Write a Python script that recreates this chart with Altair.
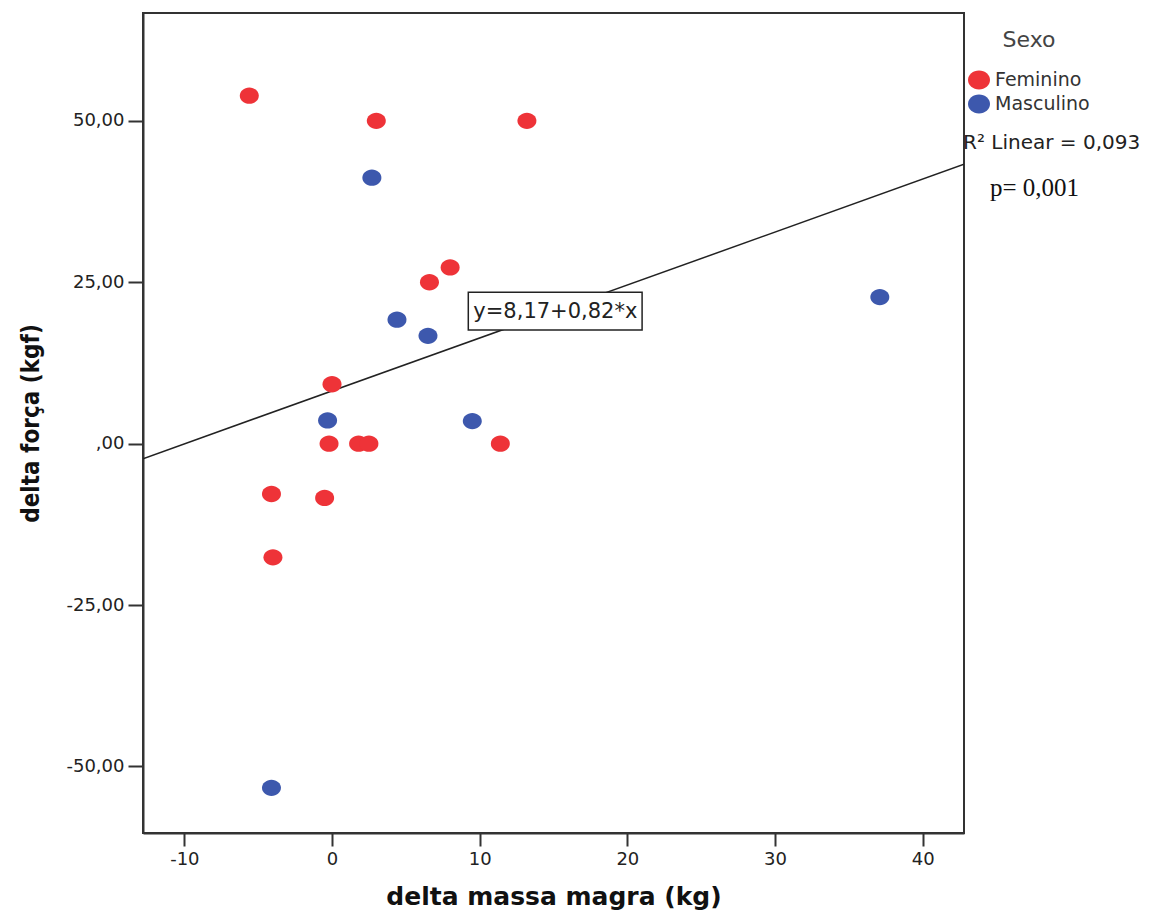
import altair as alt
import pandas as pd

# ---- data ----
fem_massa = [-5.6, 3.0, 13.2, 8.0, 6.6, 0.0, -0.2, 1.8, 2.5, 11.4, -4.1, -0.5, -4.0]
fem_forca = [53.9, 50.0, 50.0, 27.3, 25.0, 9.2, 0.0, 0.0, 0.0, 0.0, -7.8, -8.4, -17.6]
masc_massa = [2.7, 4.4, 6.5, -0.3, 9.5, 37.1, -4.1]
masc_forca = [41.2, 19.2, 16.7, 3.6, 3.5, 22.7, -53.3]

sexo_cats = ["Feminino", "Masculino"]
sexo_colors = ["#EE3338", "#3D58AD"]

intercept = 8.17
slope = 0.82
x_domain = [-12.8, 42.8]
y_domain = [-60.3, 66.7]
x_ticks = [-10, 0, 10, 20, 30, 40]
y_ticks = [-50, -25, 0, 25, 50]

eq_label = "y=8,17+0,82*x"
r2_label = "R\u00b2 Linear = 0,093"
p_label = "p= 0,001"

# ---- tables ----
df = pd.DataFrame({
    "massa": fem_massa + masc_massa,
    "forca": fem_forca + masc_forca,
    "sexo": ["Feminino"] * len(fem_massa) + ["Masculino"] * len(masc_massa),
})
line_df = pd.DataFrame({
    "massa": x_domain,
    "forca": [intercept + slope * v for v in x_domain],
})
box_df = pd.DataFrame({"x1": [9.23], "x2": [21.0], "y1": [17.6], "y2": [23.45],
                       "tx": [9.57], "ty": [20.4], "label": [eq_label]})
side_df = pd.DataFrame({"r2": [r2_label], "p": [p_label]})

ELLIPSE = "M-1,0A1,0.86,0,1,0,1,0A1,0.86,0,1,0,-1,0Z"

xs = alt.Scale(domain=x_domain, nice=False, zero=False)
ys = alt.Scale(domain=y_domain, nice=False, zero=False)

x_axis = alt.Axis(values=x_ticks, title="delta massa magra (kg)", grid=False,
                  tickSize=13, labelPadding=4,
                  labelExpr="(datum.value < 0 ? '-' : '') + format(abs(datum.value), 'd')",
                  titleY=71, titleBaseline="alphabetic",
                  titleFont="DejaVu Sans", titleFontSize=25, titleFontWeight="bold",
                  titleColor="#111")
y_axis = alt.Axis(values=y_ticks, title="delta força (kgf)", grid=False,
                  tickSize=15, labelPadding=4,
                  labelExpr="datum.value == 0 ? ',00' : (datum.value < 0 ? '-' : '') + replace(format(abs(datum.value), '.2f'), '.', ',')",
                  titleX=-105, titleY=410, titleAngle=270, titleBaseline="alphabetic",
                  titleAlign="center",
                  titleFont="DejaVu Sans Condensed, DejaVu Sans", titleFontSize=24,
                  titleFontWeight="bold", titleColor="#111")

points = alt.Chart(df).mark_point(shape=ELLIPSE, filled=True, size=361, opacity=1,
                                  strokeWidth=0).encode(
    x=alt.X("massa:Q", scale=xs, axis=x_axis),
    y=alt.Y("forca:Q", scale=ys, axis=y_axis),
    color=alt.Color("sexo:N", scale=alt.Scale(domain=sexo_cats, range=sexo_colors),
                    legend=alt.Legend(title="Sexo", orient="none", legendX=825, legendY=17,
                                      symbolType=ELLIPSE, symbolSize=484,
                                      symbolStrokeWidth=0, symbolOpacity=1,
                                      titleAnchor="middle", titleFont="DejaVu Sans",
                                      titleFontSize=22, titleFontWeight="normal",
                                      titleColor="#444", titlePadding=17,
                                      labelFont="DejaVu Sans", labelFontSize=19,
                                      labelColor="#333", labelOffset=5, rowPadding=3)),
)

line = alt.Chart(line_df).mark_line(color="#222", strokeWidth=1.5, clip=True).encode(
    x=alt.X("massa:Q", scale=xs),
    y=alt.Y("forca:Q", scale=ys),
)

box = alt.Chart(box_df).mark_rect(fill="white", stroke="#222", strokeWidth=1.5).encode(
    x=alt.X("x1:Q", scale=xs), x2="x2:Q",
    y=alt.Y("y1:Q", scale=ys), y2="y2:Q",
)
box_text = alt.Chart(box_df).mark_text(align="left", baseline="middle", font="DejaVu Sans",
                                       fontSize=21, color="#222").encode(
    x=alt.X("tx:Q", scale=xs), y=alt.Y("ty:Q", scale=ys), text="label:N",
)

r2_text = alt.Chart(side_df).mark_text(align="left", baseline="alphabetic",
                                       font="DejaVu Sans", fontSize=20, color="#222").encode(
    x=alt.value(820), y=alt.value(136), text="r2:N",
)
p_text = alt.Chart(side_df).mark_text(align="left", baseline="alphabetic",
                                      font="Liberation Serif", fontSize=25, color="#111").encode(
    x=alt.value(847), y=alt.value(183), text="p:N",
)

chart = alt.layer(line, points, box, box_text, r2_text, p_text).properties(
    width=821, height=820,
    autosize=alt.AutoSizeParams(type="none"),
    padding={"left": 135, "top": 5, "right": 180, "bottom": 79},
    background="white",
).configure_view(
    stroke="#333", strokeWidth=2,
).configure_axis(
    labelFont="DejaVu Sans", labelFontSize=18, labelColor="#222",
    tickColor="#333", tickWidth=2, domainColor="#333", domainWidth=2,
)

chart.save("out.html", embed_options={"renderer": "svg", "actions": False})
